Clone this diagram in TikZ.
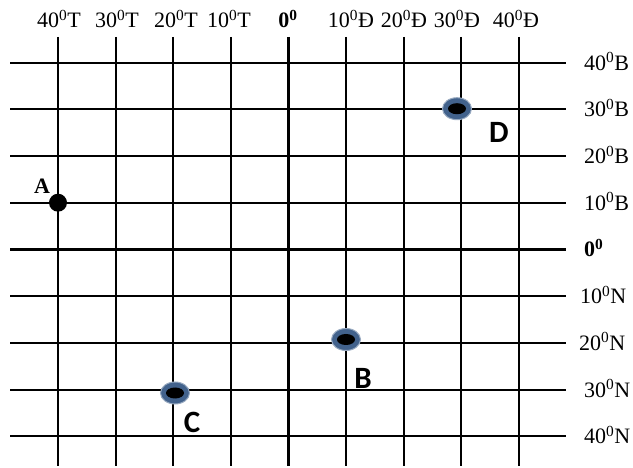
\documentclass[tikz,border=0pt]{standalone}
\usepackage{fontspec}
\setmainfont{Liberation Serif}
\newfontfamily\letterfont{Carlito}
\usepackage{tikz}
\usetikzlibrary{positioning, shapes.geometric}
\definecolor{dotblue}{RGB}{66,98,140}

\tikzset{
    gridline/.style={line width=1.9pt},
    zeroline/.style={line width=3.2pt},
    deglabel/.style={font=\fontsize{22}{24}\selectfont, inner sep=0pt},
    pointlabel/.style={font=\letterfont\bfseries\fontsize{31}{33}\selectfont, inner sep=0pt},
    blackdot/.style={circle, fill=black, minimum size=18pt, inner sep=0pt},
    bluedot/.style={ellipse, fill=dotblue, draw=dotblue!55, line width=1pt,
        minimum width=29pt, minimum height=22pt, inner sep=0pt}
}

\begin{document}
\begin{tikzpicture}[x=1pt, y=-1pt]
    \useasboundingbox (0,0) rectangle (633,468);

    % kinh tuyen (vertical) va vi tuyen (horizontal)
    \foreach \i in {0,1,2,3,5,6,7,8}
        \draw[gridline] (58+57.6*\i,37) -- (58+57.6*\i,466);
    \foreach \j in {0,1,2,3,5,6,7,8}
        \draw[gridline] (10,62.7+46.7*\j) -- (566,62.7+46.7*\j);
    \draw[zeroline] (288.4,37) -- (288.4,466);
    \draw[zeroline] (10,249.5) -- (566,249.5);

    % nhan kinh do
    \node[deglabel, anchor=base] (lonW40) at (59,28) {40\textsuperscript{0}T};
    \node[deglabel, anchor=base] (lonW30) at (117,28) {30\textsuperscript{0}T};
    \node[deglabel, anchor=base] (lonW20) at (176,28) {20\textsuperscript{0}T};
    \node[deglabel, anchor=base] (lonW10) at (229,28) {10\textsuperscript{0}T};
    \node[deglabel, anchor=base] (lon0) at (288,28) {\textbf{0\textsuperscript{0}}};
    \node[deglabel, anchor=base] (lonE10) at (351,28) {10\textsuperscript{0}Đ};
    \node[deglabel, anchor=base] (lonE20) at (404,28) {20\textsuperscript{0}Đ};
    \node[deglabel, anchor=base] (lonE30) at (457,28) {30\textsuperscript{0}Đ};
    \node[deglabel, anchor=base] (lonE40) at (516,28) {40\textsuperscript{0}Đ};

    % nhan vi do
    \node[deglabel, anchor=base west] (latN40) at (584,70.2) {40\textsuperscript{0}B};
    \node[deglabel, anchor=base west] (latN30) at (584,116.9) {30\textsuperscript{0}B};
    \node[deglabel, anchor=base west] (latN20) at (584,163.6) {20\textsuperscript{0}B};
    \node[deglabel, anchor=base west] (latN10) at (584,210.3) {10\textsuperscript{0}B};
    \node[deglabel, anchor=base west] (lat0) at (584,257) {\textbf{0\textsuperscript{0}}};
    \node[deglabel, anchor=base west] (latS10) at (580,303.7) {10\textsuperscript{0}N};
    \node[deglabel, anchor=base west] (latS20) at (579,350.4) {20\textsuperscript{0}N};
    \node[deglabel, anchor=base west] (latS30) at (584,397.1) {30\textsuperscript{0}N};
    \node[deglabel, anchor=base west] (latS40) at (584,443.8) {40\textsuperscript{0}N};

    % cac diem
    \node[blackdot] (dotA) at (58,202.7) {};
    \node[bluedot] (dotB) at (346,339.5) {};
    \node[bluedot] (dotC) at (175,393) {};
    \node[bluedot] (dotD) at (457,108.7) {};
    \foreach \p in {dotB,dotC,dotD}
        \fill[black] (\p) ellipse (9pt and 5.5pt);

    \node[deglabel, font=\fontsize{22}{24}\selectfont\bfseries] (labA) at ([xshift=-16pt,yshift=16pt]dotA) {A};
    \node[pointlabel] (labB) at ([xshift=17pt,yshift=-38.5pt]dotB) {B};
    \node[pointlabel] (labC) at ([xshift=17pt,yshift=-29pt]dotC) {C};
    \node[pointlabel] (labD) at ([xshift=42pt,yshift=-24pt]dotD) {D};
\end{tikzpicture}
\end{document}
